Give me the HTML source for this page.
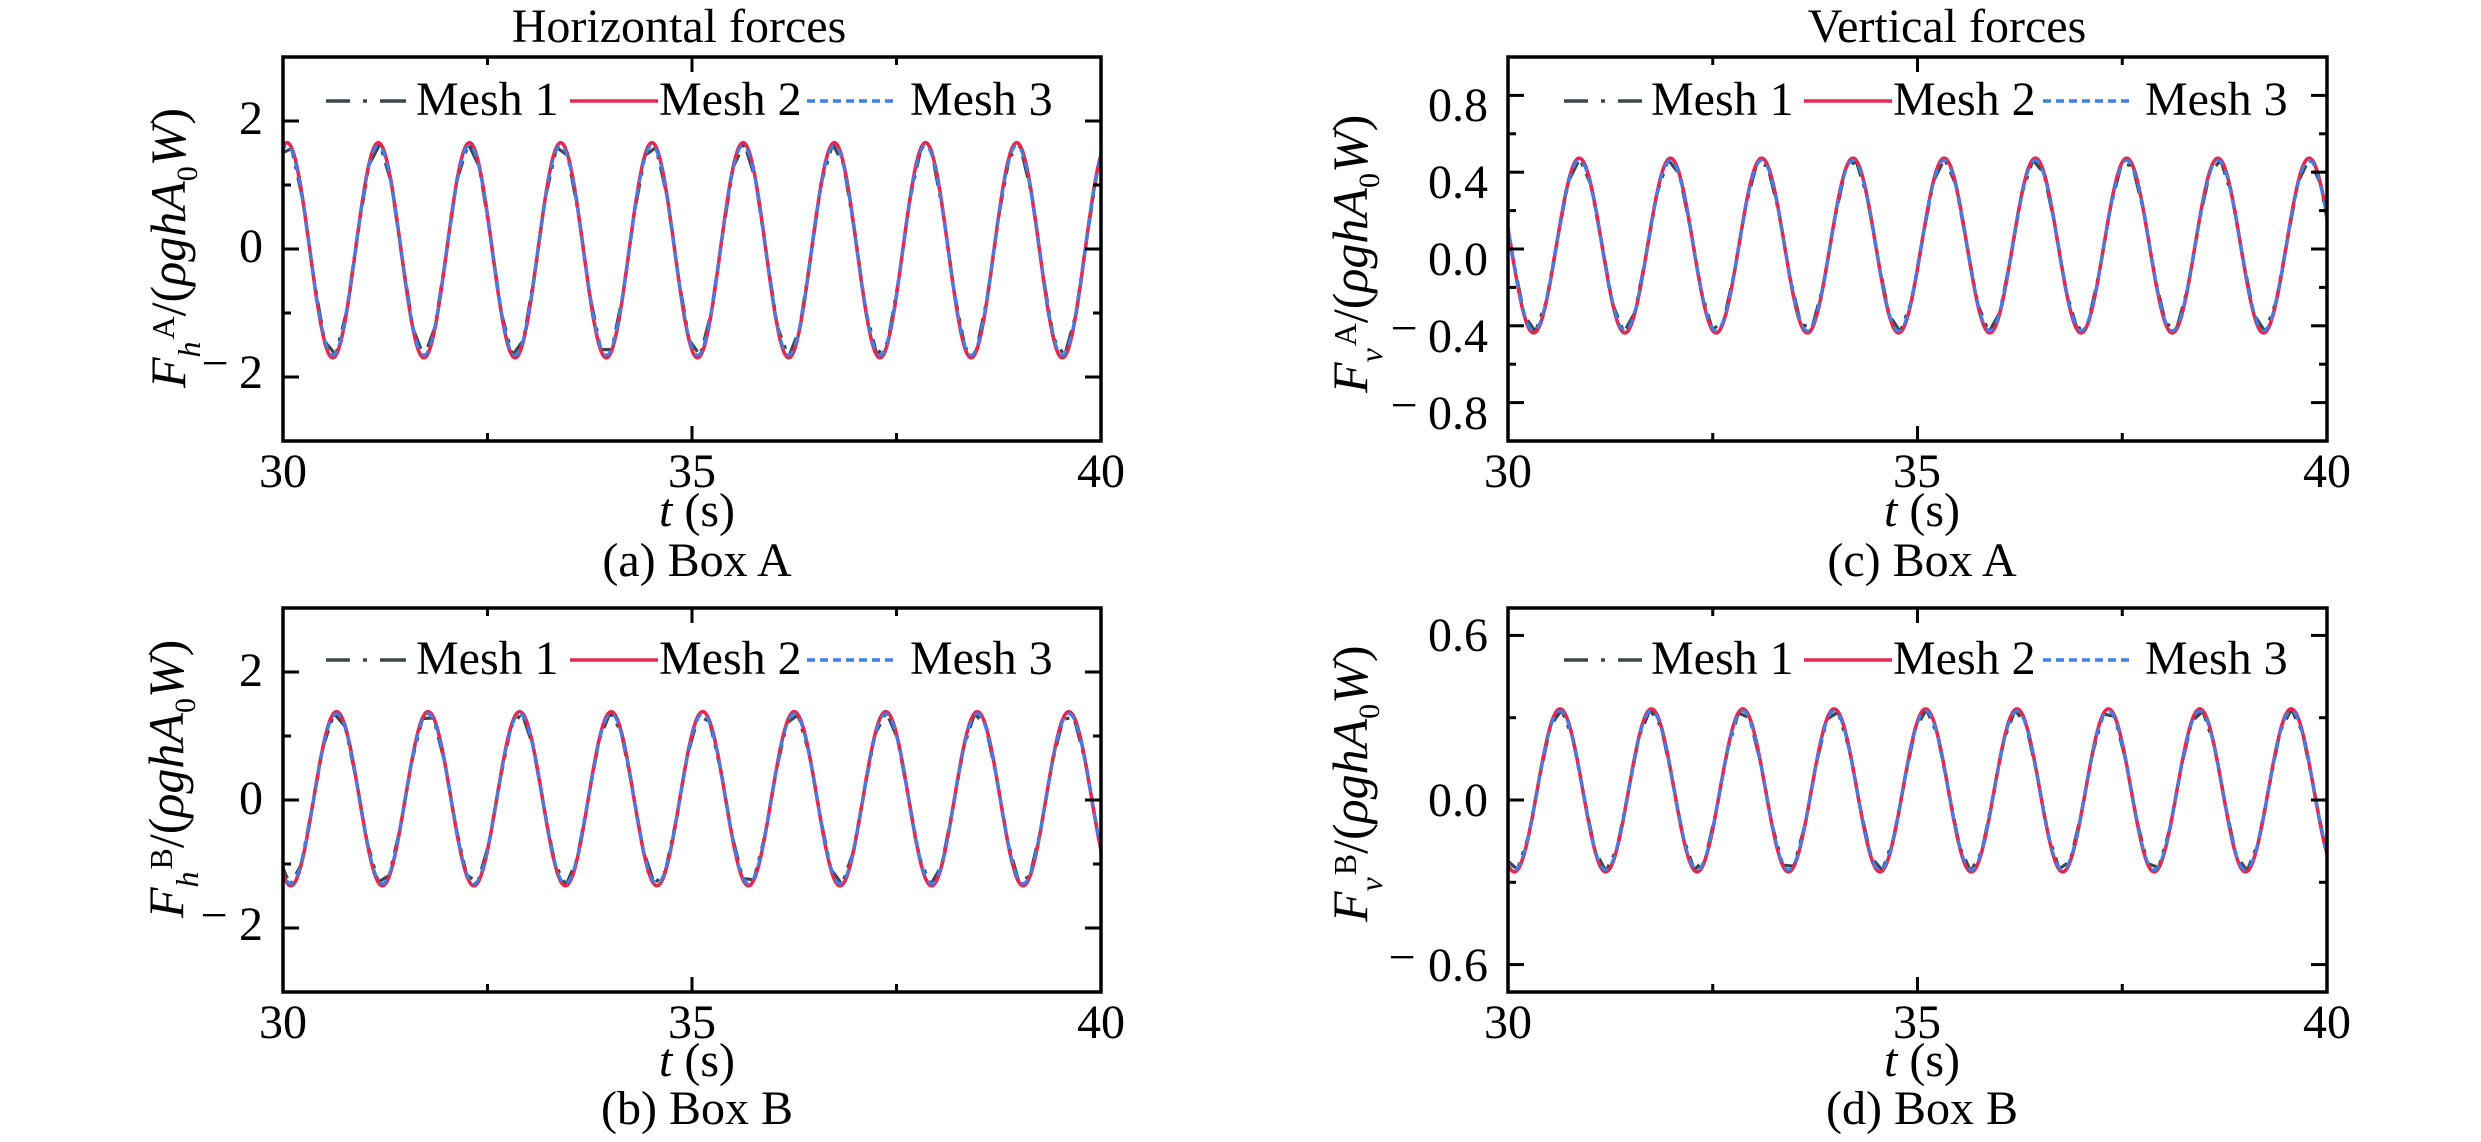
<!DOCTYPE html>
<html>
<head>
<meta charset="utf-8">
<style>
  html,body{margin:0;padding:0;background:#fff;}
  body{width:2481px;height:1142px;overflow:hidden;position:relative;}
  svg{position:absolute;left:0;top:0;}
  text{font-family:"Liberation Serif","Times New Roman",serif;fill:#000;}
</style>
</head>
<body>
<svg id="fig" width="2481" height="1142" viewBox="0 0 2481 1142" xmlns="http://www.w3.org/2000/svg">
  <defs>
    <clipPath id="c0"><rect x="283" y="57" width="818" height="384"/></clipPath>
    <clipPath id="c1"><rect x="1508" y="57" width="819" height="384"/></clipPath>
    <clipPath id="c2"><rect x="283" y="608" width="818" height="384"/></clipPath>
    <clipPath id="c3"><rect x="1508" y="608" width="819" height="384"/></clipPath>
  </defs>
  <g id="curves"></g>
  <g id="ticks"></g>

  <!-- Titles -->
  <text x="679" y="42" font-size="48" text-anchor="middle">Horizontal forces</text>
  <text x="1947" y="42" font-size="48" text-anchor="middle">Vertical forces</text>

  <!-- Y tick labels A -->
  <g font-size="48" text-anchor="end">
    <text x="263" y="134">2</text>
    <text x="263" y="262">0</text>
    <text x="263" y="388">2</text>
  </g>
  <text x="215" y="379" font-size="48" text-anchor="middle">−</text>

  <!-- Y tick labels C -->
  <g font-size="48" text-anchor="end">
    <text x="1488" y="121">0.8</text>
    <text x="1488" y="198">0.4</text>
    <text x="1488" y="275">0.0</text>
    <text x="1488" y="352">0.4</text>
    <text x="1488" y="429">0.8</text>
  </g>
  <text x="1404" y="344" font-size="48" text-anchor="middle">−</text>
  <text x="1404" y="421" font-size="48" text-anchor="middle">−</text>

  <!-- Y tick labels B -->
  <g font-size="48" text-anchor="end">
    <text x="263" y="686">2</text>
    <text x="263" y="814">0</text>
    <text x="263" y="940">2</text>
  </g>
  <text x="214" y="931" font-size="48" text-anchor="middle">−</text>

  <!-- Y tick labels D -->
  <g font-size="48" text-anchor="end">
    <text x="1488" y="651">0.6</text>
    <text x="1488" y="816">0.0</text>
    <text x="1488" y="981">0.6</text>
  </g>
  <text x="1402" y="973" font-size="48" text-anchor="middle">−</text>

  <!-- X tick labels -->
  <g font-size="48" text-anchor="middle">
    <text x="283" y="487">30</text>
    <text x="692" y="487">35</text>
    <text x="1101" y="487">40</text>
    <text x="1508" y="487">30</text>
    <text x="1917" y="487">35</text>
    <text x="2327" y="487">40</text>
    <text x="283" y="1038">30</text>
    <text x="692" y="1038">35</text>
    <text x="1101" y="1038">40</text>
    <text x="1508" y="1038">30</text>
    <text x="1917" y="1038">35</text>
    <text x="2327" y="1038">40</text>
  </g>

  <!-- x axis titles -->
  <g font-size="48" text-anchor="middle">
    <text x="697" y="526"><tspan font-style="italic">t</tspan> (s)</text>
    <text x="1922" y="526"><tspan font-style="italic">t</tspan> (s)</text>
    <text x="697" y="1076"><tspan font-style="italic">t</tspan> (s)</text>
    <text x="1922" y="1076"><tspan font-style="italic">t</tspan> (s)</text>
  </g>

  <!-- captions -->
  <g font-size="48" text-anchor="middle">
    <text x="697" y="576">(a) Box A</text>
    <text x="1922" y="576">(c) Box A</text>
    <text x="697" y="1124">(b) Box B</text>
    <text x="1922" y="1124">(d) Box B</text>
  </g>

  <!-- Y axis labels -->
  <text transform="translate(185,388) rotate(-90)" font-size="50"><tspan font-style="italic">F</tspan><tspan font-style="italic" font-size="32" dy="15">h</tspan><tspan font-size="32" dy="-26" dx="2">A</tspan><tspan dy="11">/(</tspan><tspan font-style="italic">ρghA</tspan><tspan font-size="30" dy="12">0</tspan><tspan font-style="italic" dy="-12">W</tspan><tspan>)</tspan></text>
  <text transform="translate(1367,393) rotate(-90)" font-size="50"><tspan font-style="italic">F</tspan><tspan font-style="italic" font-size="32" dy="15">v</tspan><tspan font-size="32" dy="-26" dx="2">A</tspan><tspan dy="11">/(</tspan><tspan font-style="italic">ρghA</tspan><tspan font-size="30" dy="12">0</tspan><tspan font-style="italic" dy="-12">W</tspan><tspan>)</tspan></text>
  <text transform="translate(183,918) rotate(-90)" font-size="50"><tspan font-style="italic">F</tspan><tspan font-style="italic" font-size="32" dy="15">h</tspan><tspan font-size="32" dy="-26" dx="2">B</tspan><tspan dy="11">/(</tspan><tspan font-style="italic">ρghA</tspan><tspan font-size="30" dy="12">0</tspan><tspan font-style="italic" dy="-12">W</tspan><tspan>)</tspan></text>
  <text transform="translate(1367,922) rotate(-90)" font-size="50"><tspan font-style="italic">F</tspan><tspan font-style="italic" font-size="32" dy="15">v</tspan><tspan font-size="32" dy="-26" dx="2">B</tspan><tspan dy="11">/(</tspan><tspan font-style="italic">ρghA</tspan><tspan font-size="30" dy="12">0</tspan><tspan font-style="italic" dy="-12">W</tspan><tspan>)</tspan></text>

  <!-- Legends -->
  <g id="legends" stroke-width="3.5" fill="none">
    <line x1="326" y1="101" x2="406" y2="101" stroke="#3c474d" stroke-dasharray="24 13 4 13 26"/>
    <line x1="570" y1="101" x2="658" y2="101" stroke="#e3294f"/>
    <line x1="807" y1="101" x2="897" y2="101" stroke="#3f7fe6" stroke-dasharray="8 5"/>
    <line x1="1564" y1="101" x2="1642" y2="101" stroke="#3c474d" stroke-dasharray="24 13 4 13 26"/>
    <line x1="1804" y1="101" x2="1892" y2="101" stroke="#e3294f"/>
    <line x1="2043" y1="101" x2="2131" y2="101" stroke="#3f7fe6" stroke-dasharray="8 5"/>
    <line x1="326" y1="660" x2="406" y2="660" stroke="#3c474d" stroke-dasharray="24 13 4 13 26"/>
    <line x1="570" y1="660" x2="658" y2="660" stroke="#e3294f"/>
    <line x1="807" y1="660" x2="897" y2="660" stroke="#3f7fe6" stroke-dasharray="8 5"/>
    <line x1="1564" y1="660" x2="1642" y2="660" stroke="#3c474d" stroke-dasharray="24 13 4 13 26"/>
    <line x1="1804" y1="660" x2="1892" y2="660" stroke="#e3294f"/>
    <line x1="2043" y1="660" x2="2131" y2="660" stroke="#3f7fe6" stroke-dasharray="8 5"/>
  </g>
  <g font-size="48">
    <text x="416" y="115">Mesh 1</text>
    <text x="659" y="115">Mesh 2</text>
    <text x="910" y="115">Mesh 3</text>
    <text x="1651" y="115">Mesh 1</text>
    <text x="1893" y="115">Mesh 2</text>
    <text x="2145" y="115">Mesh 3</text>
    <text x="416" y="674">Mesh 1</text>
    <text x="659" y="674">Mesh 2</text>
    <text x="910" y="674">Mesh 3</text>
    <text x="1651" y="674">Mesh 1</text>
    <text x="1893" y="674">Mesh 2</text>
    <text x="2145" y="674">Mesh 3</text>
  </g>
</svg>
<script>
(function(){
  var NS = "http://www.w3.org/2000/svg";
  var P = [
    {x0:283,x1:1101,y0:57,y1:441,ymin:-3,ymax:3, maj:[-2,0,2], mn:[-1,1], m:-0.02,a:1.68,T:1.115,tp:30.05, off:0.03},
    {x0:1508,x1:2327,y0:57,y1:441,ymin:-1,ymax:1, maj:[-0.8,-0.4,0,0.4,0.8], mn:[-0.6,-0.2,0.2,0.6], m:0.018,a:0.455,T:1.114,tp:30.87, off:0.07},
    {x0:283,x1:1101,y0:608,y1:992,ymin:-3,ymax:3, maj:[-2,0,2], mn:[-1,1], m:0.02,a:1.36,T:1.119,tp:30.655, off:0.05},
    {x0:1508,x1:2327,y0:608,y1:992,ymin:-0.7,ymax:0.7, maj:[-0.6,0,0.6], mn:[-0.3,0.3], m:0.035,a:0.297,T:1.116,tp:30.635, off:0.02}
  ];
  var curves = document.getElementById('curves');
  var ticks = document.getElementById('ticks');
  function el(name, attrs, parent){
    var e = document.createElementNS(NS, name);
    for (var k in attrs) e.setAttribute(k, attrs[k]);
    parent.appendChild(e);
    return e;
  }
  P.forEach(function(p, i){
    var sx = function(t){ return p.x0 + (t-30)/10*(p.x1-p.x0); };
    var sy = function(v){ return p.y1 - (v-p.ymin)/(p.ymax-p.ymin)*(p.y1-p.y0); };
    var f = function(t, amp){ return p.m + amp*Math.cos(2*Math.PI*(t-p.tp)/p.T); };
    var g = el('g', {'clip-path':'url(#c'+i+')', fill:'none', 'stroke-linejoin':'round'}, curves);
    var d1 = '';
    var t;
    for (t = 30 - p.off; t <= 40.3; t += 0.135){
      d1 += (d1 ? 'L' : 'M') + sx(t).toFixed(1) + ',' + sy(f(t, p.a*0.995)).toFixed(1);
    }
    el('path', {d:d1, stroke:'#3c474d', 'stroke-width':3.2, 'stroke-dasharray':'22 8 4 8'}, g);
    var d2 = '';
    for (t = 29.98; t <= 40.03; t += 0.005){
      d2 += (d2 ? 'L' : 'M') + sx(t).toFixed(1) + ',' + sy(f(t, p.a)).toFixed(1);
    }
    el('path', {d:d2, stroke:'#e3294f', 'stroke-width':3.6}, g);
    var d3 = '';
    for (t = 29.98; t <= 40.03; t += 0.005){
      d3 += (d3 ? 'L' : 'M') + sx(t).toFixed(1) + ',' + sy(f(t, p.a*0.975)).toFixed(1);
    }
    el('path', {d:d3, stroke:'#3f7fe6', 'stroke-width':3.0, 'stroke-dasharray':'9 6'}, g);

    var tg = el('g', {stroke:'#000', 'stroke-width':3}, ticks);
    var xmaj = [30,35,40], xmin = [32.5,37.5];
    xmaj.forEach(function(v){
      var x = sx(v);
      el('line', {x1:x,y1:p.y1,x2:x,y2:p.y1-15}, tg);
      el('line', {x1:x,y1:p.y0,x2:x,y2:p.y0+15}, tg);
    });
    xmin.forEach(function(v){
      var x = sx(v);
      el('line', {x1:x,y1:p.y1,x2:x,y2:p.y1-8}, tg);
      el('line', {x1:x,y1:p.y0,x2:x,y2:p.y0+8}, tg);
    });
    p.maj.forEach(function(v){
      var y = sy(v);
      el('line', {x1:p.x0,y1:y,x2:p.x0+16,y2:y}, tg);
      el('line', {x1:p.x1,y1:y,x2:p.x1-16,y2:y}, tg);
    });
    p.mn.forEach(function(v){
      var y = sy(v);
      el('line', {x1:p.x0,y1:y,x2:p.x0+8,y2:y}, tg);
      el('line', {x1:p.x1,y1:y,x2:p.x1-8,y2:y}, tg);
    });
    el('rect', {x:p.x0, y:p.y0, width:p.x1-p.x0, height:p.y1-p.y0, fill:'none', stroke:'#000', 'stroke-width':3.5}, tg);
  });
})();
</script>
</body>
</html>
